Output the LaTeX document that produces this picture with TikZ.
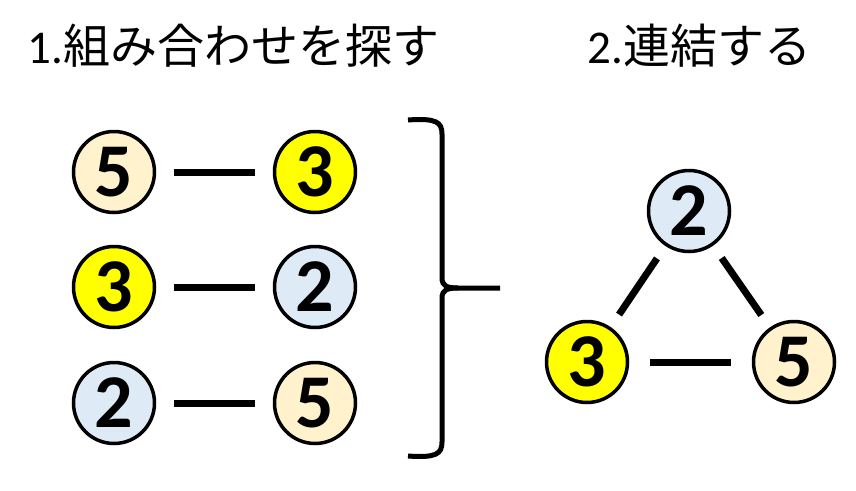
\documentclass[tikz,border=0pt]{standalone}
\usepackage{fontspec}
\setmainfont{Carlito}
\newfontfamily\jp{Noto Sans CJK JP}
\usepackage{xcolor}
\usepackage{tikz}
\definecolor{cream}{HTML}{FFF2CC}
\definecolor{lemon}{HTML}{FFFF00}
\definecolor{sky}{HTML}{DEEBF7}

\begin{document}
\begin{tikzpicture}[x=1pt,y=-1pt,
        num/.style={circle,draw=black,line width=3.5pt,minimum size=81pt,inner sep=0pt,
          font=\fontsize{76}{76}\selectfont\bfseries},
        bar/.style={line width=7pt,shorten >=#1,shorten <=#1},
        title/.style={anchor=west,font=\fontsize{47}{47}\selectfont}]
      \useasboundingbox (0,0) rectangle (856,490);
      \node[title] (t1) at (24,46) {1.{\jp 組み合わせを探す}};
      \node[title] (t2) at (584,46) {2.{\jp 連結する}};
      % pairs
      \node[num,fill=cream] (a1) at (114,172) {5};
      \node[num,fill=lemon] (b1) at (315,172) {3};
      \node[num,fill=lemon] (a2) at (114,287) {3};
      \node[num,fill=sky] (b2) at (315,287) {2};
      \node[num,fill=sky] (a3) at (114,403) {2};
      \node[num,fill=cream] (b3) at (315,403) {5};
      \foreach \n in {1,2,3}
        \draw[bar=18pt] (a\n) -- (b\n);
      % brace
      \draw[line width=5pt] (408,120) .. controls (436,118) and (442,122) .. (442,134)
        -- (442,278) .. controls (442,286) and (447,288) .. (458,288) -- (500,288);
      \draw[line width=5pt] (408,456) .. controls (436,458) and (442,454) .. (442,442)
        -- (442,298) .. controls (442,290) and (447,288) .. (458,288);
      % triangle
      \node[num,fill=sky] (c2) at (689,211) {2};
      \node[num,fill=lemon] (c3) at (587,362) {3};
      \node[num,fill=cream] (c5) at (794,362) {5};
      \draw[bar=15pt] (c2) -- (c3);
      \draw[bar=15pt] (c2) -- (c5);
      \draw[bar=21pt] (c3) -- (c5);
    \end{tikzpicture}
\end{document}
